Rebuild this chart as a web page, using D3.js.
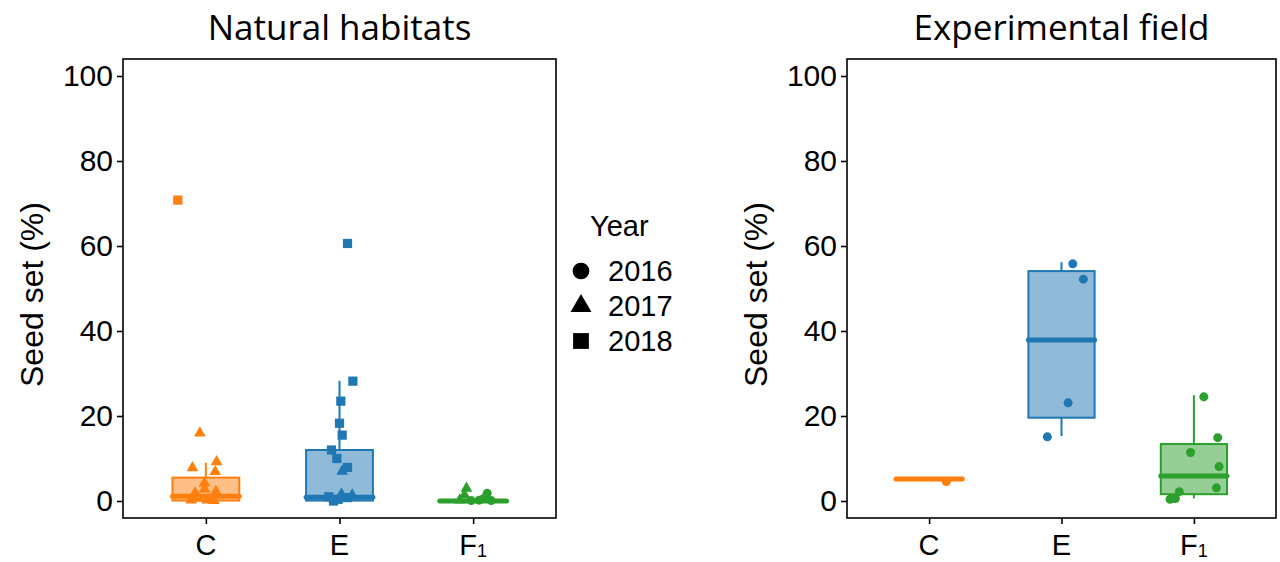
<!DOCTYPE html>
<html>
<head>
<meta charset="utf-8">
<script src="https://cdn.jsdelivr.net/npm/d3@7"></script>
<style>
  html, body { margin: 0; padding: 0; background: #fff; }
  svg { display: block; }
  text { font-family: "Liberation Sans", Arial, sans-serif; fill: #000; }
  .title { font-family: "Open Sans", "Noto Sans", sans-serif; }
</style>
</head>
<body>
<svg id="chart" width="1280" height="562"></svg>
<script>
// Categories and colours
const groups = ["C", "E", "F1"];
const groupColors = ["#ff7f0e", "#1f77b4", "#2ca02c"];
const years = ["2016", "2017", "2018"];
const yTicks = [0, 20, 40, 60, 80, 100];
const panelTitles = ["Natural habitats", "Experimental field"];

// Box statistics per group: [lower whisker, Q1, median, Q3, upper whisker]
const naturalBoxes = [
  [0, 0.1, 1.1, 5.5, 9.0],
  [0, 0.1, 0.9, 12.0, 28.3],
  [0, 0, 0, 0.2, 0.5]
];
const fieldBoxes = [
  [5.2, 5.2, 5.2, 5.2, 5.2],
  [15.3, 19.6, 37.9, 54.1, 56.2],
  [0.6, 1.6, 5.9, 13.4, 24.9]
];

// Individual observations (seed set %), with year and horizontal jitter (in category steps)
const naturalGroup  = ["C","C","C","C","C","C","C","C","C","C","C","C","C",
                       "E","E","E","E","E","E","E","E","E","E","E","E","E","E","E",
                       "F1","F1","F1","F1","F1","F1","F1","F1"];
const naturalYear   = ["2018","2017","2017","2017","2017","2017","2017","2017","2017","2017","2017","2017","2017",
                       "2018","2018","2018","2018","2018","2018","2018","2018","2017","2018","2018","2018","2017","2018","2017",
                       "2017","2017","2016","2016","2016","2016","2017","2016"];
const naturalValue  = [70.8, 16.0, 7.8, 9.2, 6.9, 4.2, 2.8, 1.9, 2.2, 0.7, 0.2, 0.2, 0.1,
                       60.6, 28.2, 23.5, 18.3, 15.5, 12.0, 10.0, 7.9, 7.0, 1.0, 0.4, 0.8, 1.6, 0.0, 1.4,
                       3.0, 1.4, 1.8, 0.1, 0.2, 0.1, 0.2, 0.6];
const naturalJitter = [-0.21, -0.045, -0.10, 0.08, 0.07, -0.01, -0.01, -0.08, 0.075, -0.06, 0.01, -0.11, 0.06,
                       0.06, 0.10, 0.01, 0.0, 0.02, -0.06, -0.02, 0.06, 0.02, -0.08, -0.01, 0.06, 0.015, -0.045, 0.095,
                       -0.05, -0.065, 0.105, -0.015, 0.045, 0.135, -0.10, 0.08];

const fieldGroup  = ["C", "E","E","E","E", "F1","F1","F1","F1","F1","F1","F1","F1"];
const fieldYear   = ["2016", "2016","2016","2016","2016", "2016","2016","2016","2016","2016","2016","2016","2016"];
const fieldValue  = [4.6, 55.8, 52.2, 23.1, 15.1, 24.5, 14.9, 11.4, 8.1, 3.1, 2.2, 0.6, 0.4];
const fieldJitter = [0.13, 0.085, 0.165, 0.05, -0.107, 0.075, 0.18, -0.025, 0.19, 0.17, -0.11, -0.14, -0.18];

const svg = d3.select("#chart");
const symbolTypes = [d3.symbolCircle, d3.symbolTriangle, d3.symbolSquare];
const shape = d3.scaleOrdinal().domain(years).range(symbolTypes);
const color = d3.scaleOrdinal().domain(groups).range(groupColors);
const pointSize = d3.scaleOrdinal().domain(years).range([64, 60, 85]);

const plotTop = 59, plotBottom = 518;
const y = d3.scaleLinear().domain([-4, 104]).range([plotBottom, plotTop]);

function drawPanel(left, right, title, boxes, gName, gYear, gVal, gJit) {
  const x = d3.scalePoint().domain(groups).range([left, right]).padding(0.62);
  const step = x.step();
  const boxW = step * 0.5;
  const g = svg.append("g");

  // Panel frame
  g.append("rect")
    .attr("x", left).attr("y", plotTop)
    .attr("width", right - left).attr("height", plotBottom - plotTop)
    .attr("fill", "none").attr("stroke", "#000").attr("stroke-width", 1.6);

  // Y axis
  const yAxis = g.append("g").attr("transform", `translate(${left},0)`)
    .call(d3.axisLeft(y).tickValues(yTicks).tickSize(6).tickPadding(4));
  yAxis.select(".domain").remove();
  yAxis.selectAll(".tick line").attr("stroke", "#000").attr("stroke-width", 1.6);
  yAxis.selectAll(".tick text").style("font-size", "30px").attr("fill", "#000")
    .style("font-family", "'Liberation Sans', Arial, sans-serif");

  // X axis
  const xAxis = g.append("g").attr("transform", `translate(0,${plotBottom})`)
    .call(d3.axisBottom(x).tickSize(6).tickPadding(14).tickFormat(""));
  xAxis.select(".domain").remove();
  xAxis.selectAll(".tick line").attr("stroke", "#000").attr("stroke-width", 1.6);
  const xl = g.append("g").selectAll("text").data(groups).join("text")
    .attr("x", d => x(d)).attr("y", plotBottom + 37)
    .attr("text-anchor", "middle").style("font-size", "29px");
  xl.append("tspan").text(d => d.charAt(0));
  xl.filter(d => d.length > 1).append("tspan")
    .attr("dy", 2).style("font-size", "18px").text(d => d.slice(1));

  // Axis title
  g.append("text")
    .attr("transform", `translate(${left - 80},${(plotTop + plotBottom) / 2 + 6}) rotate(-90)`)
    .attr("text-anchor", "middle").style("font-size", "32px")
    .text("Seed set (%)");

  // Panel title
  g.append("text").attr("class", "title")
    .attr("x", (left + right) / 2).attr("y", 40)
    .attr("text-anchor", "middle").style("font-size", "35px")
    .text(title);

  // Boxes
  const bg = g.append("g").selectAll("g").data(groups).join("g");
  bg.each(function(d, i) {
    const [lo, q1, med, q3, hi] = boxes[i];
    const sel = d3.select(this);
    const c = color(d);
    const cx = x(d);
    sel.append("line").attr("x1", cx).attr("x2", cx).attr("y1", y(hi)).attr("y2", y(q3))
      .attr("stroke", c).attr("stroke-width", 2);
    sel.append("line").attr("x1", cx).attr("x2", cx).attr("y1", y(q1)).attr("y2", y(lo))
      .attr("stroke", c).attr("stroke-width", 2);
    sel.append("rect")
      .attr("x", cx - boxW / 2).attr("width", boxW)
      .attr("y", y(q3)).attr("height", Math.max(0, y(q1) - y(q3)))
      .attr("fill", c).attr("fill-opacity", 0.5)
      .attr("stroke", c).attr("stroke-width", 2);
    sel.append("line")
      .attr("x1", cx - boxW / 2).attr("x2", cx + boxW / 2)
      .attr("y1", y(med)).attr("y2", y(med))
      .attr("stroke", c).attr("stroke-width", 5).attr("stroke-linecap", "round");
  });

  // Observations
  const pts = gVal.map((v, i) => ({ group: gName[i], year: gYear[i], value: v, jit: gJit[i] }));
  g.append("g").selectAll("path").data(pts).join("path")
    .attr("transform", d => `translate(${x(d.group) + d.jit * step},${y(d.value)})`)
    .attr("d", d => d3.symbol().type(shape(d.year)).size(pointSize(d.year))())
    .attr("fill", d => color(d.group));
}

drawPanel(123, 556, panelTitles[0], naturalBoxes, naturalGroup, naturalYear, naturalValue, naturalJitter);
drawPanel(847, 1276, panelTitles[1], fieldBoxes, fieldGroup, fieldYear, fieldValue, fieldJitter);

// Legend for sampling year
const legend = svg.append("g");
legend.append("text").attr("x", 590).attr("y", 236).style("font-size", "29px").text("Year");
const legendSize = [220, 190, 250];
const ly = d3.scalePoint().domain(years).range([271, 341]);
const li = legend.selectAll("g.item").data(years).join("g").attr("class", "item")
  .attr("transform", d => `translate(0,${ly(d)})`);
li.append("path")
  .attr("transform", "translate(581,0)")
  .attr("d", (d, i) => d3.symbol().type(shape(d)).size(legendSize[i])())
  .attr("fill", "#000");
li.append("text").attr("x", 608).attr("y", 0).attr("dy", "0.36em")
  .style("font-size", "29px").text(d => d);
</script>
</body>
</html>
